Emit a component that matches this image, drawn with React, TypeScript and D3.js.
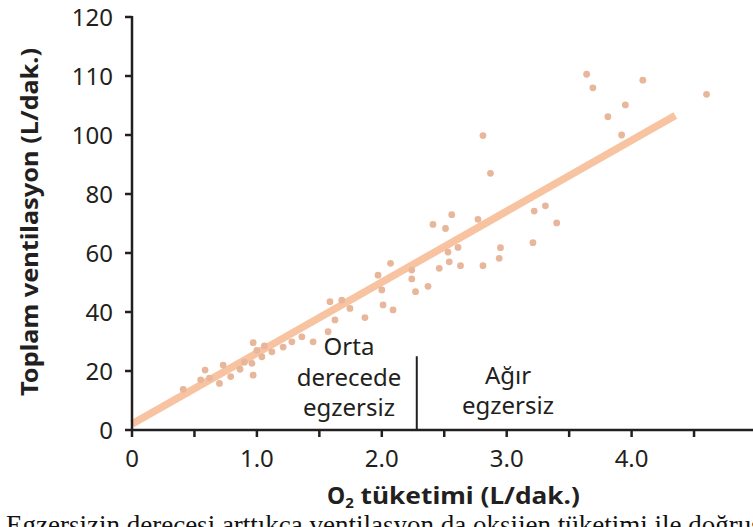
import React from "react";
import * as d3 from "d3";

// O2 consumption (L/min) for each measurement
const o2Uptake = [
  0.41, 0.55, 0.585, 0.62, 0.7, 0.73, 0.79, 0.865, 0.9, 0.96, 0.97, 0.97, 1.0, 1.04, 1.06,
  1.12, 1.21, 1.28, 1.36, 1.45, 1.57, 1.585, 1.625, 1.68, 1.745, 1.865, 1.97, 2.0, 2.01,
  2.07, 2.09, 2.24, 2.24, 2.27, 2.37, 2.41, 2.46, 2.51, 2.53, 2.54, 2.56, 2.61, 2.63, 2.77,
  2.81, 2.81, 2.87, 2.94, 2.95, 3.21, 3.22, 3.31, 3.4, 3.64, 3.69, 3.81, 3.92, 3.95, 4.09,
  4.6,
];
// Total ventilation (L/min) for each measurement
const ventilation = [
  13.8, 17.0, 20.3, 17.6, 15.8, 22.0, 18.1, 20.6, 23.0, 22.6, 18.6, 29.6, 27.0, 24.8, 28.5,
  26.5, 28.1, 29.9, 31.6, 29.9, 33.3, 43.5, 37.3, 44.0, 41.2, 38.1, 52.5, 47.5, 42.4,
  56.5, 40.7, 54.2, 51.2, 46.9, 48.7, 69.7, 54.8, 68.3, 60.3, 57.0, 73.0, 61.9, 55.7, 71.4,
  55.7, 99.8, 87.0, 58.2, 61.8, 63.5, 74.2, 76.0, 70.2, 110.3, 108.0, 103.1, 100.0, 105.1, 109.3,
  106.9,
];

// Regression line end points
const fitX = [0, 4.35];
const fitY = [2, 103.3];

const yTicks = [0, 20, 40, 60, 80, 100, 110, 120];
const xTicks = [0, 0.5, 1, 1.5, 2, 2.5, 3, 3.5, 4, 4.5];
const xLabelTicks = [0, 1, 2, 3, 4];

const dividerX = 2.28;
const dividerTop = 25;

const moderateLabel = ["Orta", "derecede", "egzersiz"];
const heavyLabel = ["Ağır", "egzersiz"];
const yTitle = "Toplam ventilasyon (L/dak.)";
const bodyLine =
  "Egzersizin derecesi arttıkça ventilasyon da oksijen tüketimi ile doğrusal artar (Şekil 13";

const W = 753;
const H = 527;
const x0 = 132;
const yBase = 430;
const yTop = 17;

export default function App() {
  const x = d3.scaleLinear().domain([0, 5]).range([x0, x0 + 5 * 124.9]);
  const step = (yBase - yTop) / (yTicks.length - 1);
  const y = d3
    .scaleLinear()
    .domain(yTicks)
    .range(yTicks.map((_, i) => yBase - i * step));

  const fitPath = d3
    .line<number>()
    .x((d) => x(fitX[d]))
    .y((d) => y(fitY[d]))([0, 1]) as string;

  const sans = "'Noto Sans', 'Open Sans', sans-serif";
  const axisColor = "#231f20";

  return (
    <svg
      width={W}
      height={H}
      style={{ position: "absolute", left: 0, top: 0, background: "#fff" }}
      fontFamily={sans}
    >
      {/* fit line */}
      <path d={fitPath} fill="none" stroke="#f8c3a1" strokeWidth={7.5} />

      {/* measurements */}
      {o2Uptake.map((v, i) => (
        <circle key={i} cx={x(v)} cy={y(ventilation[i])} r={3.4} fill="#e8b69b" />
      ))}

      {/* y axis */}
      <line x1={x0} x2={x0} y1={yTop - 1} y2={yBase + 1} stroke={axisColor} strokeWidth={2.5} />
      {yTicks.map((t) => (
        <g key={t}>
          <line x1={x0 - 7} x2={x0} y1={y(t)} y2={y(t)} stroke={axisColor} strokeWidth={2.5} />
          <text
            x={x0 - 19}
            y={y(t)}
            dy="0.36em"
            textAnchor="end"
            fontSize={24}
            fill={axisColor}
          >
            {t}
          </text>
        </g>
      ))}

      {/* x axis */}
      <line x1={x0 - 1} x2={W} y1={yBase} y2={yBase} stroke={axisColor} strokeWidth={2.5} />
      {xTicks.map((t) => (
        <line
          key={t}
          x1={x(t)}
          x2={x(t)}
          y1={yBase}
          y2={yBase + 7}
          stroke={axisColor}
          strokeWidth={2.5}
        />
      ))}
      {xLabelTicks.map((t) => (
        <text key={t} x={x(t)} y={467} textAnchor="middle" fontSize={24} fill={axisColor}>
          {t === 0 ? "0" : d3.format(".1f")(t)}
        </text>
      ))}

      {/* axis titles */}
      <text
        transform={`translate(38, ${222}) rotate(-90)`}
        textAnchor="middle"
        fontSize={23}
        fontWeight="bold"
        fill={axisColor}
        textLength={348}
        lengthAdjust="spacingAndGlyphs"
      >
        {yTitle}
      </text>
      <text x={327} y={504} fontSize={23} fontWeight="bold" fill={axisColor}>
        O<tspan fontSize={15} dy={4}>2</tspan>
        <tspan dy={-4} textLength={226} lengthAdjust="spacingAndGlyphs">
          {" tüketimi (L/dak.)"}
        </tspan>
      </text>

      {/* exercise intensity divider and labels */}
      <line
        x1={x(dividerX)}
        x2={x(dividerX)}
        y1={y(dividerTop)}
        y2={yBase}
        stroke={axisColor}
        strokeWidth={2}
      />
      {moderateLabel.map((s, i) => (
        <text key={s} x={349} y={355 + i * 30.5} textAnchor="middle" fontSize={24} fill={axisColor}>
          {s}
        </text>
      ))}
      {heavyLabel.map((s, i) => (
        <text key={s} x={508} y={384 + i * 30} textAnchor="middle" fontSize={24} fill={axisColor}>
          {s}
        </text>
      ))}

      {/* running text below the figure */}
      <text x={6} y={534} fontFamily="'Liberation Serif', serif" fontSize={27} fill="#111">
        {bodyLine}
      </text>
    </svg>
  );
}
